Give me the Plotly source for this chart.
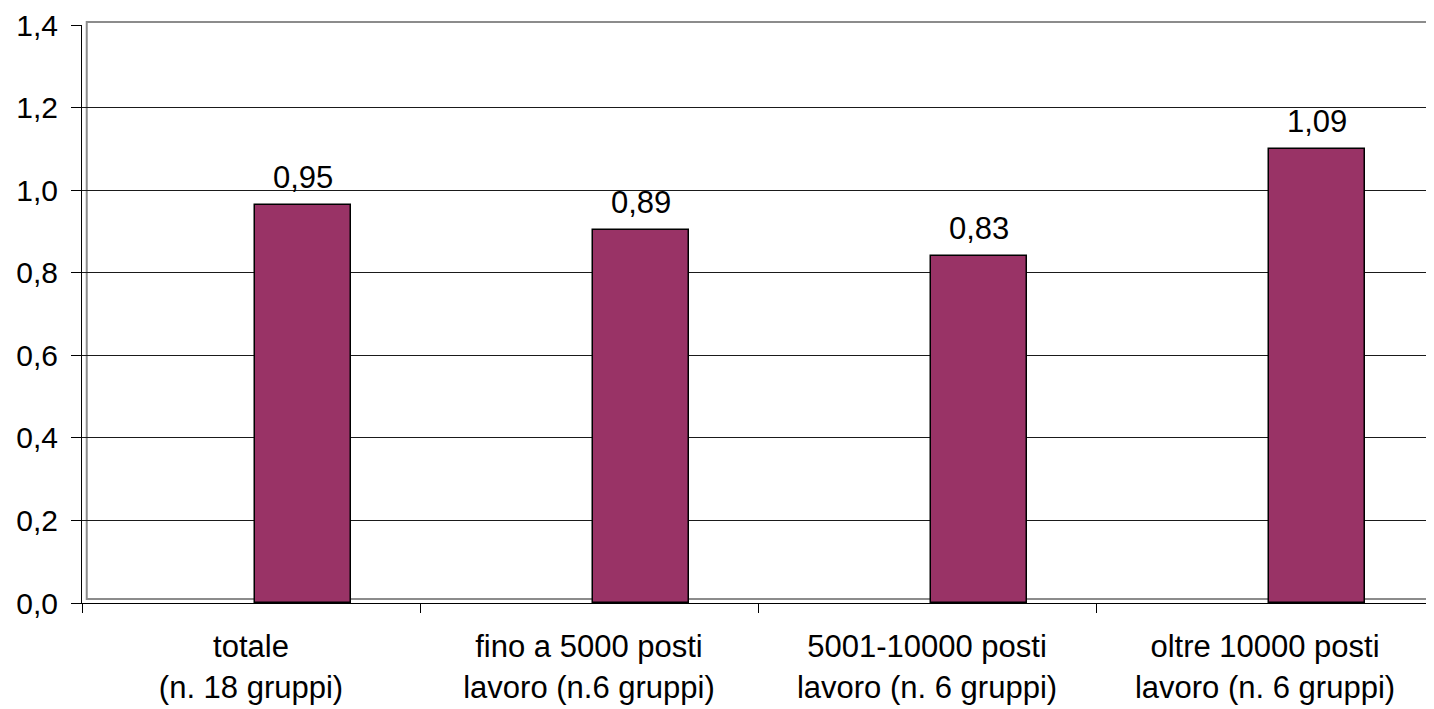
import plotly.graph_objects as go

categories = ["totale<br>(n. 18 gruppi)",
              "fino a 5000 posti<br>lavoro (n.6 gruppi)",
              "5001-10000 posti<br>lavoro (n. 6 gruppi)",
              "oltre 10000 posti<br>lavoro (n. 6 gruppi)"]
bar_heights = [0.964, 0.903, 0.840, 1.099]
bar_labels = ["0,95", "0,89", "0,83", "1,09"]
y_ticks = [0.0, 0.2, 0.4, 0.6, 0.8, 1.0, 1.2, 1.4]

FONT = "Liberation Sans, Arial, sans-serif"
FS = 31
FS_Y = 30

fig = go.Figure()
fig.add_trace(go.Bar(
    x=categories, y=bar_heights,
    offset=0.012, width=0.285,
    marker=dict(color="#993366", line=dict(color="black", width=1.5)),
    hoverinfo="skip",
))

for c, v, t in zip(categories, bar_heights, bar_labels):
    fig.add_annotation(x=c, y=v, text=t, showarrow=False, xref="x", yref="y",
                       xanchor="center", yanchor="bottom", xshift=52, yshift=8,
                       font=dict(family=FONT, size=FS, color="black"))

# grey plot-area frame (decoration)
fig.add_shape(type="rect", xref="paper", yref="paper",
              x0=0.0035, x1=0.9993, y0=0.0069, y1=1.005,
              line=dict(color="#8c8c8c", width=2), layer="below")

fig.update_layout(
    width=1426, height=701,
    margin=dict(l=74, r=0, t=17, b=106),
    paper_bgcolor="white", plot_bgcolor="white",
    separators=",.",
    showlegend=False,
    font=dict(family=FONT, size=FS, color="black"),
    bargap=0,
)
fig.update_xaxes(
    type="category", range=[-0.5, 3.5],
    showline=True, linecolor="black", linewidth=1,
    ticks="outside", tickson="boundaries", ticklen=9, tickcolor="black",
    showgrid=False, tickfont=dict(family=FONT, size=FS, color="black"),
    ticklabelstandoff=16,
)
fig.update_yaxes(
    range=[0, 1.4], tickvals=y_ticks, tickformat=".1f",
    showline=True, linecolor="black", linewidth=1,
    ticks="outside", ticklen=10, tickcolor="black",
    showgrid=True, gridcolor="#1a1a1a", gridwidth=1,
    zeroline=False, tickfont=dict(family=FONT, size=FS_Y, color="black"),
    ticklabelstandoff=7,
)

fig.write_html("out.html")
